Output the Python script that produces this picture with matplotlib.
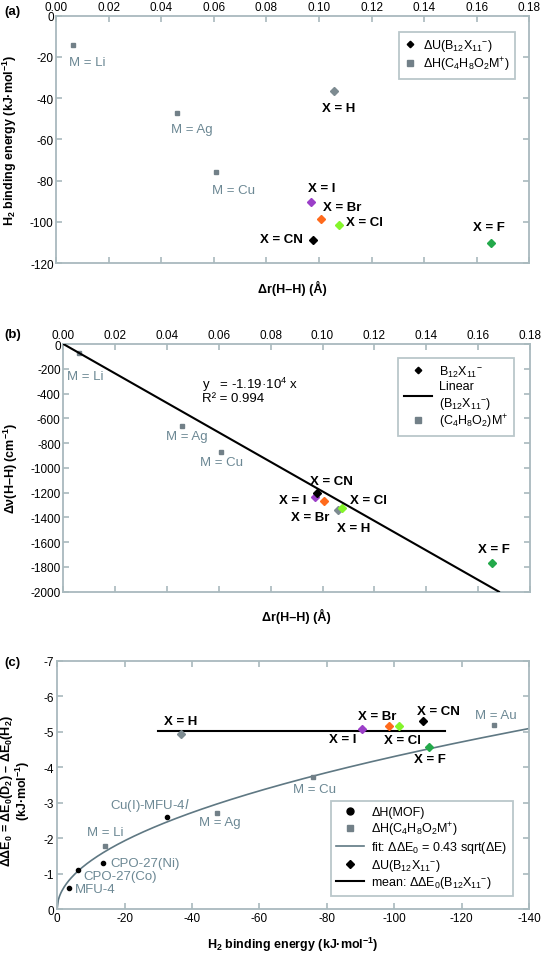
import numpy as np
import matplotlib
matplotlib.use('Agg')
import matplotlib.pyplot as plt
from matplotlib.lines import Line2D

plt.rcParams['font.family'] = ['Liberation Sans', 'DejaVu Sans']
plt.rcParams['mathtext.fontset'] = 'custom'
plt.rcParams['mathtext.rm'] = 'Liberation Sans'
plt.rcParams['mathtext.default'] = 'regular'
plt.rcParams['axes.unicode_minus'] = False

# ---- data ----
# anion diamonds: X = H, I, Br, Cl, CN, F
x_names = ['H', 'I', 'Br', 'Cl', 'CN', 'F']
x_colors = ['#7d8b91', '#9b3fc8', '#ff6a1c', '#84f52a', '#000000', '#23a94a']
x_dr = [0.1058, 0.0969, 0.1006, 0.1075, 0.0977, 0.1655]
x_be = [-36.7, -90.3, -98.5, -101.4, -108.6, -110.2]
x_dnu = [-1340, -1238, -1265, -1327, -1206, -1771]
x_dde = [-4.92, -5.07, -5.16, -5.16, -5.31, -4.57]

# (C4H8O2)M+ squares
m_names = ['Li', 'Ag', 'Cu']
m_dr = [0.0062, 0.0458, 0.0608]
m_be = [-14.0, -47.3, -75.6]
m_dnu = [-75, -659, -869]
m_names_c = ['Li', 'Ag', 'Cu', 'Au']
m_be_c = [-14.3, -47.4, -75.8, -129.6]
m_dde_c = [-1.78, -2.72, -3.71, -5.18]

# MOFs
mof_names = ['MFU-4', 'CPO-27(Co)', 'CPO-27(Ni)', 'Cu(I)-MFU-4$\\mathit{l}$']
mof_be = [-3.4, -6.1, -13.5, -32.7]
mof_dde = [-0.60, -1.10, -1.30, -2.59]

slope_b = -1.19e4
fit_c = 0.43

FRAME = '#a9b9be'
GRAY = '#6c8894'
SQ = '#728088'

fig = plt.figure(figsize=(5.43, 9.54), dpi=100)
ax1 = fig.add_axes([0.1039, 0.7230, 0.8705, 0.2595])
ax2 = fig.add_axes([0.1168, 0.3787, 0.8590, 0.2596])
ax3 = fig.add_axes([0.1052, 0.0461, 0.8692, 0.2603])


def style(ax):
    for s in ax.spines.values():
        s.set_color(FRAME)
        s.set_linewidth(1.3)
    ax.tick_params(direction='in', length=4, width=1.2, color=FRAME,
                   labelsize=8.5, top=True, right=True, pad=2)


def leg(ax, handles, labels, hl=2.0, **kw):
    lg = ax.legend(handles, labels, fontsize=9, fancybox=False,
                   borderaxespad=0, handlelength=hl, handletextpad=0.6,
                   labelspacing=0.12, borderpad=0.45, **kw)
    lg.get_frame().set_edgecolor(FRAME)
    lg.get_frame().set_linewidth(1.3)
    return lg


sub_u = 'ΔU(B$_{12}$X$_{11}$$^{-}$)'
sub_h = 'ΔH(C$_4$H$_8$O$_2$M$^{+}$)'
lab_kw = dict(fontsize=9.5, fontweight='bold', ha='center', va='center')
mlab_kw = dict(fontsize=9.5, color=GRAY, ha='center', va='center')
ax_kw = dict(fontsize=9, fontweight='bold')
DMS = 4.2

# ---------- (a) ----------
style(ax1)
ax1.tick_params(labelbottom=False, labeltop=True)
ax1.plot(m_dr, m_be, 's', color=SQ, ms=2.2, ls='none')
for i in range(len(x_names)):
    ax1.plot(x_dr[i], x_be[i], 'D', color=x_colors[i], ms=DMS)
ax1.set_xlim(0, 0.18)
ax1.set_ylim(-120, 0)
ax1.set_xticks(np.arange(0, 0.181, 0.02))
ax1.set_xticklabels(['%.2f' % v for v in np.arange(0, 0.181, 0.02)])
ax1.set_yticks(np.arange(-120, 1, 20))
ax1.set_xlabel('Δr(H–H) (Å)', labelpad=12, **ax_kw)
ax1.set_ylabel('H$_2$ binding energy (kJ·mol$^{-1}$)', labelpad=8, **ax_kw)
a_mlab = [(0.0117, -22.6), (0.0516, -54.9), (0.0675, -84.5)]
for n, (tx, ty) in zip(m_names, a_mlab):
    ax1.text(tx, ty, 'M = ' + n, **mlab_kw)
a_xlab = [(0.1073, -44.7), (0.1011, -83.7), (0.1088, -92.9),
          (0.1174, -100.2), (0.0856, -108.2), (0.1648, -102.6)]
for n, (tx, ty) in zip(x_names, a_xlab):
    ax1.text(tx, ty, 'X = ' + n, **lab_kw)
h1 = [Line2D([], [], marker='D', color='k', ls='none', ms=3.3),
      Line2D([], [], marker='s', color=SQ, ls='none', ms=5)]
leg(ax1, h1, [sub_u, sub_h], hl=0.8, loc='upper right',
    bbox_to_anchor=(0.970, 0.935))

# ---------- (b) ----------
style(ax2)
ax2.tick_params(labelbottom=False, labeltop=True)
xl = np.array([0, -2000 / slope_b])
ax2.plot(m_dr, m_dnu, 's', color=SQ, ms=2.2, ls='none', zorder=1)
for i in range(len(x_names)):
    ax2.plot(x_dr[i], x_dnu[i], 'D', color=x_colors[i], ms=DMS, zorder=2)
ax2.plot(xl, slope_b * xl, color='k', lw=1.5, zorder=3)
ax2.set_xlim(0, 0.18)
ax2.set_ylim(-2000, 0)
ax2.set_xticks(np.arange(0, 0.181, 0.02))
ax2.set_xticklabels(['%.2f' % v for v in np.arange(0, 0.181, 0.02)])
ax2.set_yticks(np.arange(-2000, 1, 200))
ax2.set_xlabel('Δr(H–H) (Å)', labelpad=12, **ax_kw)
ax2.set_ylabel('Δν(H–H) (cm$^{-1}$)', labelpad=7.5, **ax_kw)
b_mlab = [(0.0083, -256), (0.0477, -740), (0.0611, -950)]
for n, (tx, ty) in zip(m_names, b_mlab):
    ax2.text(tx, ty, 'M = ' + n, **mlab_kw)
b_xlab = [(0.1121, -1486), (0.0885, -1260), (0.0951, -1397),
          (0.1179, -1260), (0.1036, -1104), (0.166, -1655)]
for n, (tx, ty) in zip(x_names, b_xlab):
    ax2.text(tx, ty, 'X = ' + n, **lab_kw)
ax2.text(0.0535, -318, 'y   = -1.19·10$^{4}$ x', fontsize=9.5, va='center')
ax2.text(0.0535, -433, 'R² = 0.994', fontsize=9.5, va='center')
h2 = [Line2D([], [], marker='D', color='k', ls='none', ms=3.3),
      Line2D([], [], color='k', lw=1.5),
      Line2D([], [], marker='s', color=SQ, ls='none', ms=5)]
leg(ax2, h2, ['B$_{12}$X$_{11}$$^{-}$', 'Linear\n(B$_{12}$X$_{11}$$^{-}$)',
              '(C$_4$H$_8$O$_2$)M$^{+}$'],
    hl=2.2, loc='upper right', bbox_to_anchor=(0.966, 0.943))

# ---------- (c) ----------
style(ax3)
xf = np.linspace(0, -140, 400)
ax3.plot(xf, -fit_c * np.sqrt(-xf), color='#5f7883', lw=1.2, zorder=1)
ax3.plot(mof_be, mof_dde, 'o', color='k', ms=3, ls='none', zorder=2)
ax3.plot(m_be_c, m_dde_c, 's', color=SQ, ms=2.2, ls='none', zorder=2)
ax3.plot([-30, -115], [np.mean(x_dde)] * 2, color='k', lw=1.5, zorder=2)
for i in range(len(x_names)):
    ax3.plot(x_be[i], x_dde[i], 'D', color=x_colors[i], ms=DMS, zorder=3)
ax3.set_xlim(0, -140)
ax3.set_ylim(0, -7)
ax3.set_xticks(np.arange(0, -141, -20))
ax3.set_yticks(np.arange(0, -7.1, -1))
ax3.set_xticklabels(['%d' % v for v in np.arange(0, -141, -20)])
ax3.set_yticklabels(['%d' % v for v in np.arange(0, -7.1, -1)])
ax3.set_xlabel('H$_2$ binding energy (kJ·mol$^{-1}$)', labelpad=8, **ax_kw)
fig.text(7 / 543, 0.1709, 'ΔΔE$_0$ = ΔE$_0$(D$_2$) – ΔE$_0$(H$_2$)',
         rotation=90, ha='center', va='center', **ax_kw)
fig.text(22.5 / 543, 0.1709, '(kJ·mol$^{-1}$)',
         rotation=90, ha='center', va='center', **ax_kw)
c_xlab = [(-36.7, -5.29), (-84.7, -4.79), (-95.0, -5.43),
          (-102.4, -4.76), (-113.0, -5.58), (-110.7, -4.23)]
for n, (tx, ty) in zip(x_names, c_xlab):
    ax3.text(tx, ty, 'X = ' + n, **lab_kw)
c_mlab = [(-14.2, -2.16), (-48.4, -2.44), (-76.3, -3.38), (-130.2, -5.47)]
for n, (tx, ty) in zip(m_names_c, c_mlab):
    ax3.text(tx, ty, 'M = ' + n, **mlab_kw)
c_moflab = [(-11.3, -0.56), (-18.6, -0.94), (-26.2, -1.29), (-27.4, -2.94)]
for n, (tx, ty) in zip(mof_names, c_moflab):
    ax3.text(tx, ty, n, **mlab_kw)
h3 = [Line2D([], [], marker='o', color='k', ls='none', ms=5),
      Line2D([], [], marker='s', color=SQ, ls='none', ms=5),
      Line2D([], [], color='#5f7883', lw=1.2),
      Line2D([], [], marker='D', color='k', ls='none', ms=3.7),
      Line2D([], [], color='k', lw=1.5)]
leg(ax3, h3, ['ΔH(MOF)', sub_h, 'fit: ΔΔE$_0$ = 0.43 sqrt(ΔE)', sub_u,
              'mean: ΔΔE$_0$(B$_{12}$X$_{11}$$^{-}$)'],
    hl=2.2, loc='lower right', bbox_to_anchor=(0.966, 0.052))

fig.text(0.008, 0.9874, '(a)', fontsize=9.5, fontweight='bold', va='center')
fig.text(0.008, 0.6488, '(b)', fontsize=9.5, fontweight='bold', va='center')
fig.text(0.008, 0.305, '(c)', fontsize=9.5, fontweight='bold', va='center')

fig.savefig('out.png', dpi=100)
